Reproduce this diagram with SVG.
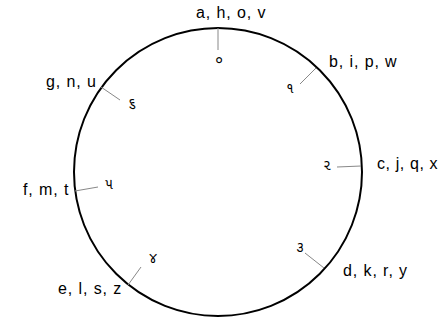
<svg xmlns="http://www.w3.org/2000/svg" width="441" height="323" viewBox="0 0 441 323">
<style>
.lbl{font-family:"Liberation Sans",Arial,sans-serif;font-size:16px;letter-spacing:0.9px;fill:#000}
.dig{font-family:"Noto Sans Gujarati","Noto Sans","DejaVu Sans",sans-serif;font-size:14px;fill:#000;text-anchor:middle}
.tick{stroke:#888;stroke-width:1;fill:none}
</style>
<rect width="441" height="323" fill="#fff"/>
<g id="ring"><circle cx="218" cy="172" r="144" fill="none" stroke="#000" stroke-width="2"/></g>
<g id="connectors">
<line class="tick" x1="218" y1="28" x2="218" y2="50"/>
<line class="tick" x1="316" y1="68" x2="300" y2="84"/>
<line class="tick" x1="361" y1="166" x2="337" y2="167"/>
<line class="tick" x1="324" y1="268" x2="305" y2="253"/>
<line class="tick" x1="128" y1="285" x2="141" y2="267"/>
<line class="tick" x1="75" y1="191" x2="98" y2="187"/>
<line class="tick" x1="101" y1="87" x2="120" y2="100"/>
</g>
<g id="n0"><text class="lbl" x="196" y="18">a, h, o, v</text><text class="dig" x="219" y="65">૦</text></g>
<g id="n1"><text class="lbl" x="329" y="67">b, i, p, w</text><text class="dig" x="290" y="93">૧</text></g>
<g id="n2"><text class="lbl" x="377" y="169" style="letter-spacing:0.6px">c, j, q, x</text><text class="dig" x="327" y="170">૨</text></g>
<g id="n3"><text class="lbl" x="343" y="276">d, k, r, y</text><text class="dig" x="300" y="252">૩</text></g>
<g id="n4"><text class="lbl" x="58" y="294">e, l, s, z</text><text class="dig" x="153" y="263">૪</text></g>
<g id="n5"><text class="lbl" x="23" y="195">f, m, t</text><text class="dig" x="109" y="189">૫</text></g>
<g id="n6"><text class="lbl" x="46" y="87">g, n, u</text><text class="dig" x="132" y="108">૬</text></g>
</svg>
